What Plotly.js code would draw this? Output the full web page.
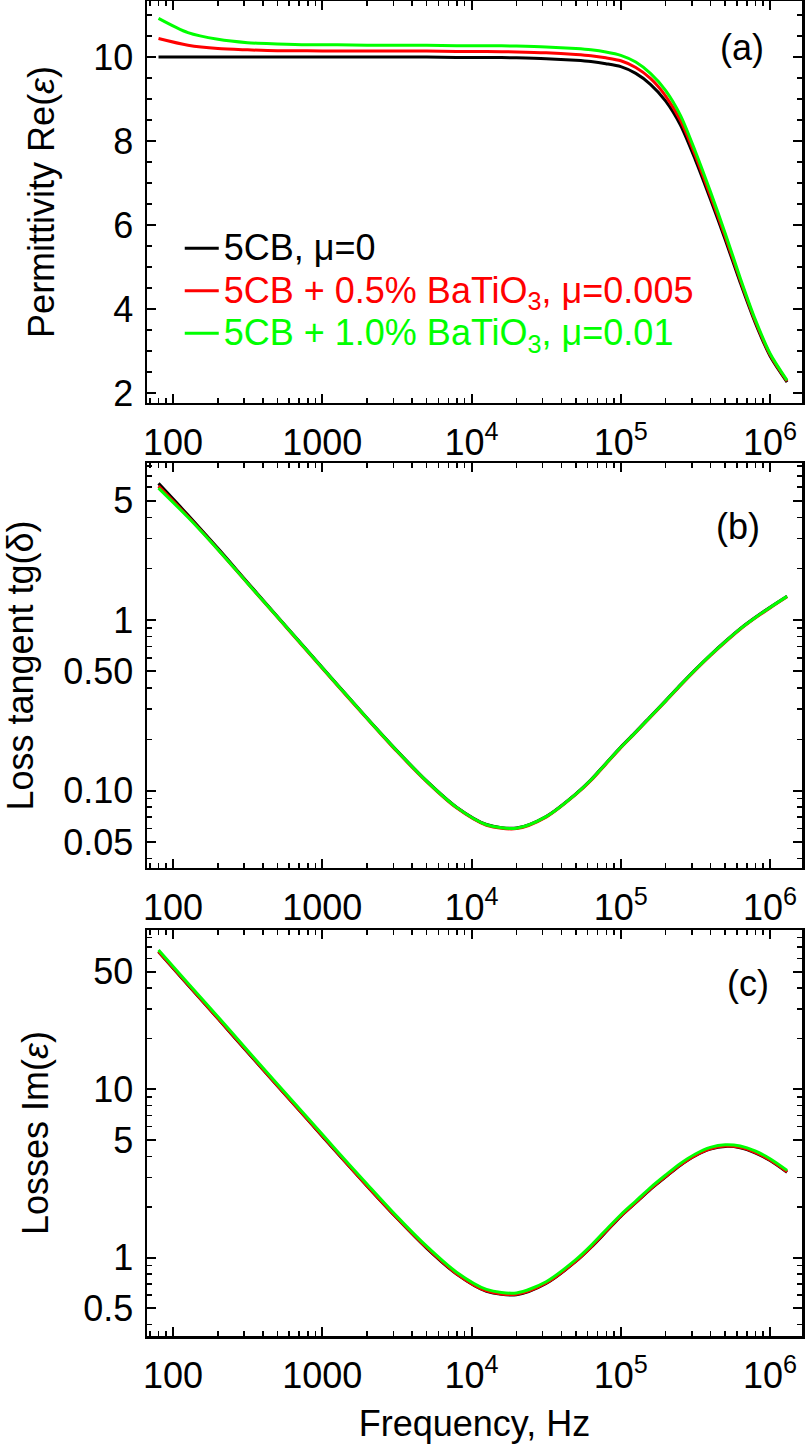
<!DOCTYPE html>
<html>
<head>
<meta charset="utf-8">
<script src="https://cdn.plot.ly/plotly-3.0.1.min.js"></script>
<style>html,body{margin:0;padding:0;background:#fff;}#chart{width:806px;height:1444px;}</style>
</head>
<body>
<div id="chart"></div>
<script>
// Frequency grid (Hz)
const freq = [80, 126, 200, 316, 500, 794, 1260, 2000, 3160, 5000, 7940, 12600, 20000, 31600, 50000,
              63100, 79400, 100000, 126000, 158000, 200000, 251000, 316000, 398000, 501000, 631000, 794000, 1000000, 1300000];

// (a) Permittivity Re(eps)
const reBlack = [10.00, 10.00, 10.00, 10.00, 10.00, 10.00, 10.00, 10.00, 10.00, 10.00, 9.99, 9.99, 9.98, 9.96, 9.92,
                 9.89, 9.84, 9.77, 9.61, 9.35, 8.95, 8.38, 7.55, 6.62, 5.65, 4.63, 3.68, 2.88, 2.26];
const reRed   = [10.44, 10.28, 10.20, 10.17, 10.15, 10.15, 10.14, 10.14, 10.14, 10.14, 10.13, 10.13, 10.12, 10.10, 10.06,
                 10.03, 9.98, 9.91, 9.75, 9.49, 9.07, 8.49, 7.65, 6.70, 5.72, 4.69, 3.72, 2.91, 2.28];
const reGreen = [10.92, 10.58, 10.42, 10.34, 10.31, 10.29, 10.29, 10.28, 10.28, 10.28, 10.27, 10.27, 10.26, 10.24, 10.20,
                 10.17, 10.12, 10.04, 9.88, 9.61, 9.20, 8.61, 7.75, 6.80, 5.80, 4.74, 3.76, 2.94, 2.30];

// (b) Loss tangent tg(delta)
const tanBlack = [6.32, 4.12, 2.63, 1.66, 1.05, 0.663, 0.419, 0.266, 0.172, 0.114, 0.080, 0.0633, 0.0604, 0.0706, 0.0958,
                  0.1157, 0.1443, 0.180, 0.221, 0.272, 0.337, 0.417, 0.513, 0.624, 0.750, 0.891, 1.035, 1.189, 1.380];
const tanRed   = [6.09, 4.04, 2.59, 1.64, 1.04, 0.656, 0.415, 0.264, 0.170, 0.113, 0.0793, 0.0627, 0.0599, 0.0700, 0.0950,
                  0.1147, 0.1430, 0.1784, 0.219, 0.2696, 0.334, 0.413, 0.508, 0.618, 0.743, 0.883, 1.026, 1.178, 1.368];
const tanGreen = [5.93, 4.00, 2.59, 1.645, 1.044, 0.660, 0.418, 0.265, 0.1715, 0.1137, 0.0798, 0.0631, 0.0602, 0.0704, 0.0955,
                  0.1154, 0.1439, 0.1795, 0.2203, 0.2712, 0.336, 0.416, 0.511, 0.622, 0.748, 0.888, 1.032, 1.185, 1.376];

// (c) Losses Im(eps)
const imBlack = [65.6, 41.7, 26.3, 16.6, 10.5, 6.63, 4.19, 2.66, 1.72, 1.14, 0.80, 0.632, 0.603, 0.703, 0.950,
                 1.15, 1.42, 1.76, 2.12, 2.55, 3.02, 3.54, 4.03, 4.41, 4.58, 4.50, 4.20, 3.78, 3.22];
const imRed   = [65.9, 41.9, 26.4, 16.7, 10.55, 6.66, 4.21, 2.67, 1.73, 1.15, 0.804, 0.635, 0.606, 0.707, 0.955,
                 1.156, 1.43, 1.77, 2.13, 2.56, 3.04, 3.56, 4.05, 4.43, 4.60, 4.52, 4.22, 3.80, 3.24];
const imGreen = [67.2, 42.7, 27.0, 17.0, 10.76, 6.80, 4.29, 2.73, 1.76, 1.17, 0.82, 0.648, 0.618, 0.72, 0.974,
                 1.18, 1.46, 1.80, 2.17, 2.61, 3.10, 3.63, 4.13, 4.52, 4.69, 4.61, 4.31, 3.87, 3.30];

// Series names and colours
const seriesNames = ['5CB, μ=0', '5CB + 0.5% BaTiO<sub>3</sub>, μ=0.005', '5CB + 1.0% BaTiO<sub>3</sub>, μ=0.01'];
const seriesColors = ['#000000', '#ff0000', '#00ff00'];

// Tick labels
const xTickVals = [100, 1000, 10000, 100000, 1000000];
const xTickText = ['100', '1000', '10<sup>4</sup>', '10<sup>5</sup>', '10<sup>6</sup>'];
const yaTickVals = [2, 4, 6, 8, 10];
const ybTickVals = [0.05, 0.1, 0.5, 1, 5];
const ybTickText = ['0.05', '0.10', '0.50', '1', '5'];
const ycTickVals = [0.5, 1, 5, 10, 50];
const ycTickText = ['0.5', '1', '5', '10', '50'];

const FONT = 'Liberation Sans, Arial, Helvetica, sans-serif';

const panels = [
  {ys: [reBlack, reRed, reGreen], xa: 'x', ya: 'y', legend: true},
  {ys: [tanBlack, tanRed, tanGreen], xa: 'x2', ya: 'y2', legend: false},
  {ys: [imBlack, imRed, imGreen], xa: 'x3', ya: 'y3', legend: false}
];

const data = [];
panels.forEach(p => {
  p.ys.forEach((ys, i) => {
    data.push({
      x: freq, y: ys, xaxis: p.xa, yaxis: p.ya, type: 'scatter', mode: 'lines',
      line: {color: seriesColors[i], width: 3, shape: 'spline', smoothing: 0.8},
      name: '<span style="font-size:36px;fill:' + seriesColors[i] + '">' + seriesNames[i] + '</span>',
      showlegend: p.legend, hoverinfo: 'skip'
    });
  });
});

function xAxis(anchor, withTitle) {
  const ax = {
    type: 'log', range: [1.826, 6.214], anchor: anchor,
    showline: true, linecolor: '#000', linewidth: 2.5, mirror: 'ticks',
    ticks: 'inside', ticklen: 9, tickwidth: 2, tickcolor: '#000',
    tickmode: 'array', tickvals: xTickVals, ticktext: xTickText,
    tickfont: {family: FONT, size: 36, color: '#000'},
    ticklabelstandoff: 6,
    minor: {ticks: 'inside', ticklen: 5, tickwidth: 1.5, tickcolor: '#000', tickmode: 'linear', dtick: 'D1', showgrid: false},
    showgrid: false, zeroline: false, fixedrange: true
  };
  if (withTitle) {
    ax.title = {text: 'Frequency, Hz', font: {family: FONT, size: 36, color: '#000'}, standoff: 18};
  }
  return ax;
}

const layout = {
  width: 806, height: 1444,
  margin: {l: 147, r: 4, t: 1, b: 108},
  paper_bgcolor: '#fff', plot_bgcolor: '#fff',
  font: {family: FONT, size: 36, color: '#000'},
  showlegend: true,
  legend: {
    x: 0.050, y: 0.8345, xanchor: 'left', yanchor: 'top',
    bgcolor: 'rgba(0,0,0,0)', borderwidth: 0,
    font: {family: FONT, size: 30.4, color: '#000'},
    tracegroupgap: 0, itemwidth: 34
  },
  xaxis: xAxis('y', false),
  xaxis2: xAxis('y2', false),
  xaxis3: xAxis('y3', true),
  yaxis: {
    domain: [0.6989, 1], range: [1.762, 11.333], anchor: 'x',
    showline: true, linecolor: '#000', linewidth: 2.5, mirror: 'ticks',
    ticks: 'inside', ticklen: 9, tickwidth: 2, tickcolor: '#000',
    tickmode: 'array', tickvals: yaTickVals,
    tickfont: {family: FONT, size: 36, color: '#000'},
    ticklabelstandoff: 4,
    minor: {ticks: 'inside', ticklen: 5, tickwidth: 1.5, tickcolor: '#000', tickmode: 'linear', tick0: 0, dtick: 0.5, showgrid: false},
    title: {text: 'Permittivity Re(<i>ε</i>)', font: {family: FONT, size: 36, color: '#000'}, standoff: 28},
    showgrid: false, zeroline: false, fixedrange: true
  },
  yaxis2: {
    domain: [0.3506, 0.6539], type: 'log', range: [-1.453, 0.920], anchor: 'x2',
    showline: true, linecolor: '#000', linewidth: 2.5, mirror: 'ticks',
    ticks: 'inside', ticklen: 9, tickwidth: 2, tickcolor: '#000',
    tickmode: 'array', tickvals: ybTickVals, ticktext: ybTickText,
    tickfont: {family: FONT, size: 36, color: '#000'},
    ticklabelstandoff: 4,
    minor: {ticks: 'inside', ticklen: 5, tickwidth: 1.5, tickcolor: '#000', tickmode: 'linear', dtick: 'D1', showgrid: false},
    title: {text: 'Loss tangent tg(δ)', font: {family: FONT, size: 36, color: '#000'}, standoff: 20},
    showgrid: false, zeroline: false, fixedrange: true
  },
  yaxis3: {
    domain: [0, 0.3041], type: 'log', range: [-0.465, 1.946], anchor: 'x3',
    showline: true, linecolor: '#000', linewidth: 2.5, mirror: 'ticks',
    ticks: 'inside', ticklen: 9, tickwidth: 2, tickcolor: '#000',
    tickmode: 'array', tickvals: ycTickVals, ticktext: ycTickText,
    tickfont: {family: FONT, size: 36, color: '#000'},
    ticklabelstandoff: 4,
    minor: {ticks: 'inside', ticklen: 5, tickwidth: 1.5, tickcolor: '#000', tickmode: 'linear', dtick: 'D1', showgrid: false},
    title: {text: 'Losses Im(<i>ε</i>)', font: {family: FONT, size: 36, color: '#000'}, standoff: 24},
    showgrid: false, zeroline: false, fixedrange: true
  },
  annotations: [
    {text: '(a)', xref: 'paper', yref: 'paper', x: 0.908, y: 0.9655, xanchor: 'center', yanchor: 'middle', showarrow: false, font: {family: FONT, size: 36, color: '#000'}},
    {text: '(b)', xref: 'paper', yref: 'paper', x: 0.902, y: 0.606, xanchor: 'center', yanchor: 'middle', showarrow: false, font: {family: FONT, size: 36, color: '#000'}},
    {text: '(c)', xref: 'paper', yref: 'paper', x: 0.917, y: 0.2644, xanchor: 'center', yanchor: 'middle', showarrow: false, font: {family: FONT, size: 36, color: '#000'}}
  ]
};

Plotly.newPlot('chart', data, layout, {displayModeBar: false, staticPlot: true});
</script>
</body>
</html>
